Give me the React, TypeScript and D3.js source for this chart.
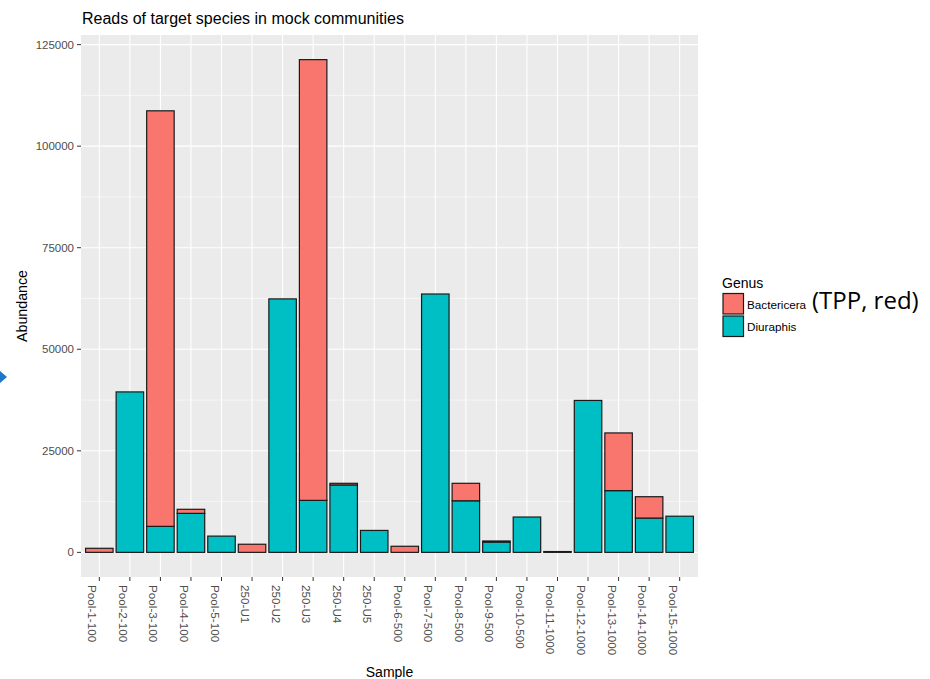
import React from "react";
import * as d3 from "d3";

const samples = [
  "Pool-1-100", "Pool-2-100", "Pool-3-100", "Pool-4-100", "Pool-5-100",
  "250-U1", "250-U2", "250-U3", "250-U4", "250-U5",
  "Pool-6-500", "Pool-7-500", "Pool-8-500", "Pool-9-500", "Pool-10-500",
  "Pool-11-1000", "Pool-12-1000", "Pool-13-1000", "Pool-14-1000", "Pool-15-1000",
];
const diuraphis = [0, 39500, 6400, 9600, 4000, 0, 62400, 12800, 16600, 5400, 0, 63600, 12700, 2550, 8700, 200, 37400, 15200, 8450, 8900];
const bactericera = [1000, 0, 102300, 1000, 0, 2000, 0, 108500, 400, 0, 1500, 0, 4300, 250, 0, 0, 0, 14200, 5250, 0];
const yTicks = [0, 25000, 50000, 75000, 100000, 125000];
const yMinor = [12500, 37500, 62500, 87500, 112500];
const genera = ["Bactericera", "Diuraphis"];
const genusColors = ["#F8766D", "#00BFC4"];

const FONT = "'Liberation Sans', Arial, sans-serif";

export default function App() {
  const W = 930, H = 679;
  const left = 81, right = 698, top = 35, bottom = 577;
  const totals = samples.map((_, i) => diuraphis[i] + bactericera[i]);
  const maxV = d3.max(totals) as number;
  const x = d3.scalePoint<string>().domain(samples).range([left, right]).padding(0.6);
  const y = d3.scaleLinear().domain([-0.05 * maxV, maxV * 1.05]).range([bottom, top]);
  const bw = x.step() * 0.9;

  return (
    <svg width={W} height={H} style={{ position: "absolute", left: 0, top: 0, background: "#fff" }} fontFamily={FONT}>
      <rect x={0} y={0} width={W} height={H} fill="#fff" />
      <text x={left + 1} y={23.5} fontSize={16} fill="#000">Reads of target species in mock communities</text>
      <rect x={left} y={top} width={right - left} height={bottom - top} fill="#EBEBEB" />
      {yMinor.map((v) => (
        <line key={"mn" + v} x1={left} x2={right} y1={y(v)} y2={y(v)} stroke="#fff" strokeWidth={0.55} />
      ))}
      {yTicks.map((v) => (
        <line key={"mj" + v} x1={left} x2={right} y1={y(v)} y2={y(v)} stroke="#fff" strokeWidth={1.1} />
      ))}
      {samples.map((s) => (
        <line key={"vx" + s} x1={x(s)} x2={x(s)} y1={top} y2={bottom} stroke="#fff" strokeWidth={1.1} />
      ))}
      {samples.map((s, i) => {
        const cx = x(s) as number;
        const d = diuraphis[i];
        const b = bactericera[i];
        return (
          <g key={"bar" + s}>
            {d > 0 && (
              <rect x={cx - bw / 2} y={y(d)} width={bw} height={y(0) - y(d)} fill={genusColors[1]} stroke="#1a1a1a" strokeWidth={1.2} />
            )}
            {b > 0 && (
              <rect x={cx - bw / 2} y={y(d + b)} width={bw} height={y(d) - y(d + b)} fill={genusColors[0]} stroke="#1a1a1a" strokeWidth={1.2} />
            )}
          </g>
        );
      })}
      {yTicks.map((v) => (
        <g key={"yt" + v}>
          <line x1={left - 4} x2={left} y1={y(v)} y2={y(v)} stroke="#333" strokeWidth={1} />
          <text x={left - 7} y={y(v)} dy="0.35em" textAnchor="end" fontSize={11.5} fill="#4D4D4D">{v}</text>
        </g>
      ))}
      {samples.map((s) => (
        <g key={"xt" + s}>
          <line x1={x(s)} x2={x(s)} y1={bottom} y2={bottom + 4} stroke="#333" strokeWidth={1} />
          <text transform={`translate(${(x(s) as number) - 11},${bottom + 8}) rotate(90)`} fontSize={11.7} fill="#4D4D4D">{s}</text>
        </g>
      ))}
      <text transform={`translate(27,${(top + bottom) / 2}) rotate(-90)`} textAnchor="middle" fontSize={14.2} fill="#000">Abundance</text>
      <text x={(left + right) / 2} y={676.5} textAnchor="middle" fontSize={14} fill="#000">Sample</text>
      <text x={722} y={288} fontSize={14} fill="#000">Genus</text>
      {genera.map((g, i) => (
        <g key={"lg" + g}>
          <rect x={723} y={293.5 + i * 22.5} width={20.5} height={20.5} fill={genusColors[i]} stroke="#1a1a1a" strokeWidth={1.2} />
          <text x={747} y={304.5 + i * 22.5} dy="0.35em" fontSize={11.7} fill="#000">{g}</text>
        </g>
      ))}
      <text x={812} y={309} fontSize={24} fontFamily="'Open Sans', 'Noto Sans', sans-serif" fill="#000">(TPP, red)</text>
      <polygon points="0,371 7,377 0,383" fill="#1F77C8" />
    </svg>
  );
}
